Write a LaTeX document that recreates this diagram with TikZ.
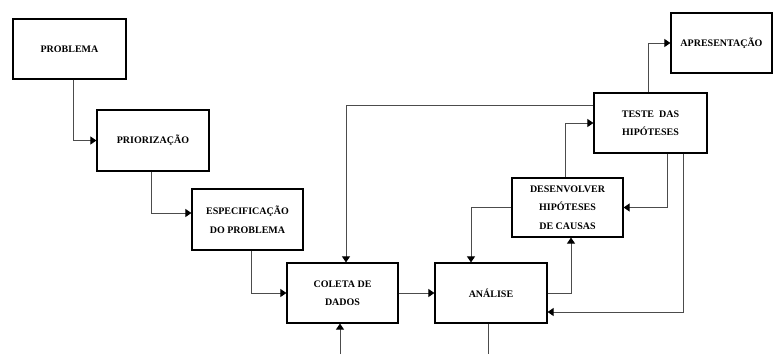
\documentclass[tikz,border=0pt]{standalone}
\usepackage{fontspec}
\setmainfont{Liberation Serif}
\usetikzlibrary{arrows.meta,positioning}

\tikzset{
  caixa/.style={draw=black, line width=1.2pt, inner sep=0pt, align=center,
    font=\bfseries\fontsize{10}{18.5}\selectfont},
  liga/.style={draw=black!70, line width=0.9pt},
  seta/.style={liga, -{Triangle[width=8pt,length=6pt,color=black]}}
}

\begin{document}
\begin{tikzpicture}[x=1pt,y=-1pt]
\useasboundingbox (0,0) rectangle (773,354);
% caixas
\node[caixa, minimum width=113pt, minimum height=60pt] (problema) at (69.5,49) {PROBLEMA};
\node[caixa, minimum width=112pt, minimum height=61pt] (priorizacao) at (153,140.5) {PRIORIZAÇÃO};
\node[caixa, minimum width=111pt, minimum height=61pt] (especificacao) at (247.5,219.5) {ESPECIFICAÇÃO\\DO PROBLEMA};
\node[caixa, minimum width=111pt, minimum height=60pt] (coleta) at (342.5,293) {COLETA DE\\DADOS};
\node[caixa, minimum width=112pt, minimum height=60pt] (analise) at (491,293) {ANÁLISE};
\node[caixa, minimum width=111pt, minimum height=59pt] (desenvolver) at (567.5,207.5) {DESENVOLVER\\HIPÓTESES\\DE CAUSAS};
\node[caixa, minimum width=113pt, minimum height=60pt] (teste) at (650.5,123) {TESTE\ \ DAS\\HIPÓTESES};
\node[caixa, minimum width=101pt, minimum height=60pt] (apresentacao) at (721.5,43) {APRESENTAÇÃO};
\coordinate (entrada) at (340,354);
\coordinate (saida) at (488,354);
% ligacoes
\draw[seta] ([xshift=3.5pt]problema.south) |- (priorizacao.west);
\draw[seta] ([xshift=-2pt]priorizacao.south) |- ([yshift=6.5pt]especificacao.west);
\draw[seta] ([xshift=3.5pt]especificacao.south) |- (coleta.west);
\draw[seta] (coleta.east) -- (analise.west);
\draw[seta] ([yshift=18pt]teste.west) -| ([xshift=3.5pt]coleta.north);
\draw[seta] (entrada) -- (entrada |- coleta.south);
\draw[liga] (saida |- analise.south) -- (saida);
\draw[seta] (analise.east) -| ([xshift=3.5pt]desenvolver.south);
\draw[seta] (desenvolver.west) -| ([xshift=-20pt]analise.north);
\draw[seta] ([xshift=-2.5pt]desenvolver.north) |- (teste.west);
\draw[seta] ([xshift=16.5pt]teste.south) |- (desenvolver.east);
\draw[seta] ([xshift=32.5pt]teste.south) |- ([yshift=-19pt]analise.east);
\draw[seta] ([xshift=-2.5pt]teste.north) |- (apresentacao.west);
\end{tikzpicture}
\end{document}
